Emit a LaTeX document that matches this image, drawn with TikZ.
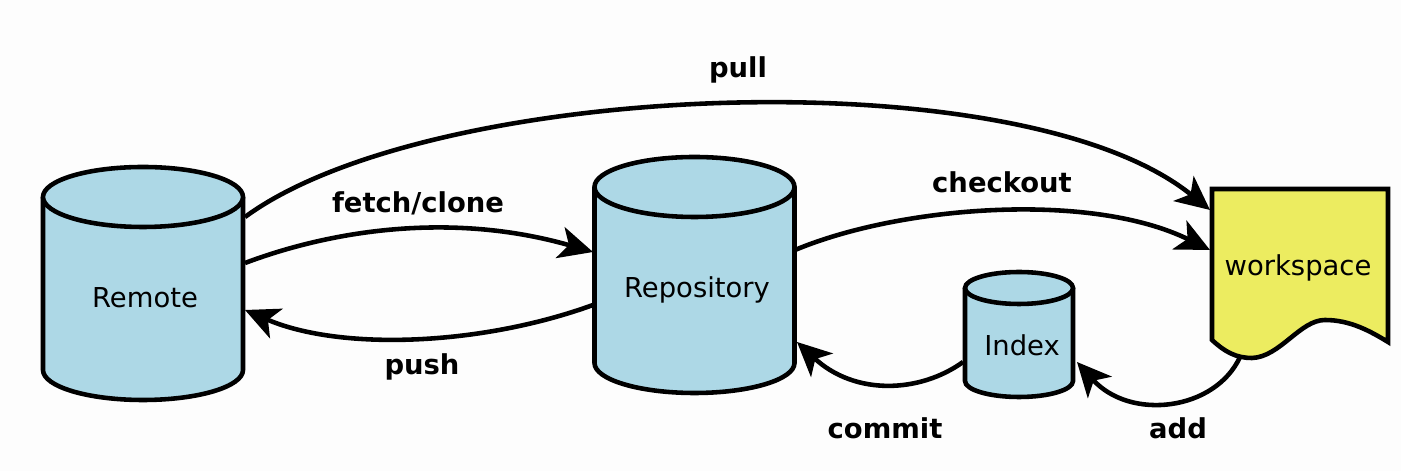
\documentclass[tikz,border=0pt]{standalone}
\usepackage{fontspec}
\setmainfont{DejaVu Sans}
\usetikzlibrary{arrows.meta}
\definecolor{cylblue}{RGB}{173,216,230}
\definecolor{wsyellow}{RGB}{236,236,96}
\definecolor{bgwhite}{RGB}{253,253,253}
\begin{document}
\begin{tikzpicture}[
    cyl/.style={fill=cylblue, draw=black, line width=1.3pt},
    flow/.style={line width=1.3pt, -{Stealth[length=0.34cm, width=0.32cm, inset=0.09cm]}},
    lbl/.style={font=\fontsize{7.8}{9}\selectfont\bfseries},
    txt/.style={font=\fontsize{7.8}{9}\selectfont}
  ]
  % Fondo
  \fill[bgwhite] (0,0) rectangle (14.01,4.71);
  \useasboundingbox (0,0) rectangle (14.01,4.71);
  % Cilindro Remote
  \filldraw[cyl] (0.43,2.74) -- (0.43,1.01) arc[start angle=180, end angle=360, x radius=1, y radius=0.3] -- (2.43,2.74);
  \filldraw[cyl] (1.43,2.74) ellipse[x radius=1, y radius=0.3];
  \node[txt] (remote) at (1.45,1.73) {Remote};
  % Cilindro Repository
  \filldraw[cyl] (5.945,2.84) -- (5.945,1.08) arc[start angle=180, end angle=360, x radius=1, y radius=0.3] -- (7.945,2.84);
  \filldraw[cyl] (6.945,2.84) ellipse[x radius=1, y radius=0.3];
  \node[txt] (repo) at (6.97,1.81) {Repository};
  % Cilindro Index
  \filldraw[cyl] (9.65,1.83) -- (9.65,0.90) arc[start angle=180, end angle=360, x radius=0.54, y radius=0.16] -- (10.73,1.83);
  \filldraw[cyl] (10.19,1.83) ellipse[x radius=0.54, y radius=0.16];
  \node[txt] (index) at (10.22,1.26) {Index};
  % Documento workspace
  \filldraw[fill=wsyellow, draw=black, line width=1.3pt] (12.12,2.82) -- (12.12,1.31)
    .. controls (12.25,1.19) and (12.36,1.13) .. (12.52,1.13)
    .. controls (12.80,1.14) and (13.00,1.51) .. (13.25,1.51)
    .. controls (13.50,1.51) and (13.70,1.40) .. (13.88,1.29) -- (13.88,2.82) -- cycle;
  \node[txt] (work) at (12.98,2.03) {workspace};
  % Puntos de conexion
  \coordinate (remote-pull) at (2.45,2.54);
  \coordinate (remote-fetch) at (2.45,2.08);
  \coordinate (remote-push) at (2.45,1.61);
  \coordinate (repo-fetch) at (5.93,2.19);
  \coordinate (repo-push) at (5.93,1.66);
  \coordinate (repo-checkout) at (7.95,2.21);
  \coordinate (repo-commit) at (7.97,1.29);
  \coordinate (index-commit) at (9.63,1.09);
  \coordinate (index-add) at (10.77,1.09);
  \coordinate (work-pull) at (12.10,2.61);
  \coordinate (work-checkout) at (12.10,2.21);
  \coordinate (work-add) at (12.40,1.14);
  % Flechas
  \draw[flow] (remote-pull) .. controls (4.3,3.9) and (10.2,4.15) .. (work-pull);
  \draw[flow] (remote-fetch) .. controls (3.3,2.4) and (4.5,2.6) .. (repo-fetch);
  \draw[flow] (repo-push) .. controls (4.8,1.25) and (3.4,1.2) .. (remote-push);
  \draw[flow] (repo-checkout) .. controls (9.0,2.65) and (10.9,2.8) .. (work-checkout);
  \draw[flow] (index-commit) .. controls (9.2,0.78) and (8.55,0.75) .. (repo-commit);
  \draw[flow] (work-add) .. controls (12.15,0.6) and (11.3,0.5) .. (index-add);
  % Etiquetas
  \node[lbl] (lbl-pull) at (7.38,4.01) {pull};
  \node[lbl] (lbl-fetch) at (4.18,2.68) {fetch/clone};
  \node[lbl] (lbl-push) at (4.22,1.04) {push};
  \node[lbl] (lbl-checkout) at (10.02,2.89) {checkout};
  \node[lbl] (lbl-commit) at (8.85,0.43) {commit};
  \node[lbl] (lbl-add) at (11.78,0.43) {add};
\end{tikzpicture}
\end{document}
